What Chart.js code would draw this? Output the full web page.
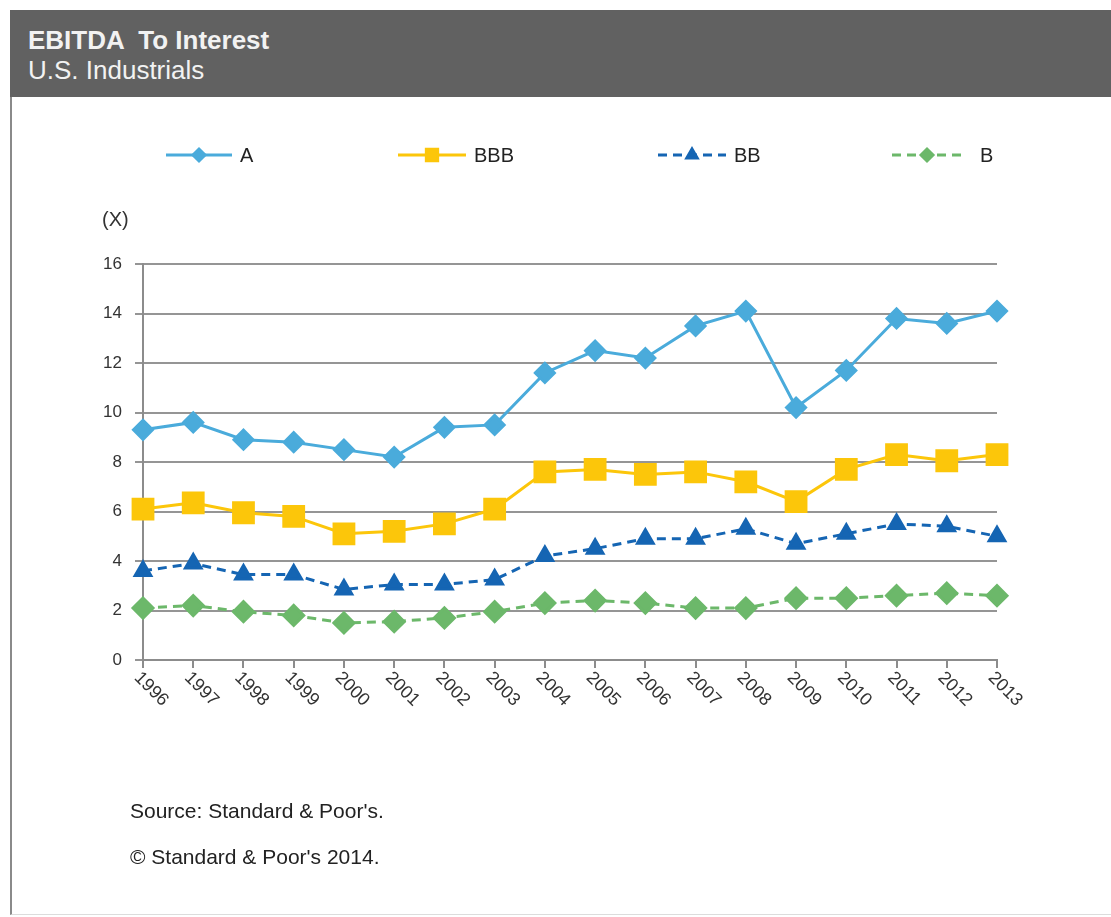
<!DOCTYPE html>
<html>
<head>
<meta charset="utf-8">
<script src="https://cdn.jsdelivr.net/npm/chart.js@4/dist/chart.umd.min.js"></script>
<style>
  html, body { margin:0; padding:0; background:#fff; width:1111px; height:917px; overflow:hidden; font-family:"Liberation Sans", Arial, sans-serif; }
  #header { position:absolute; left:10px; top:10px; width:1101px; height:87px; background:#616161; color:#f2f2f2; }
  #t1 { position:absolute; left:18px; top:15px; font-size:26px; line-height:30px; font-weight:bold; white-space:pre; }
  #t2 { position:absolute; left:18px; top:45px; font-size:26px; line-height:30px; }
  #frame { position:absolute; left:10px; top:97px; width:1101px; height:818px; border-left:2px solid #8a8a8a; border-bottom:1px solid #dcdcdc; box-sizing:border-box; }
  #wrap { position:absolute; left:10px; top:97px; width:1101px; height:818px; }
  #unit { position:absolute; left:102px; top:208px; font-size:20px; color:#333; }
  .foot { position:absolute; left:130px; font-size:21px; color:#222; }
</style>
</head>
<body>
<div id="header"><div id="t1">EBITDA  To Interest</div><div id="t2">U.S. Industrials</div></div>
<div id="frame"></div>
<div id="wrap"><canvas id="c" width="1101" height="818"></canvas></div>
<div id="unit">(X)</div>
<div class="foot" style="top:799px">Source: Standard &amp; Poor's.</div>
<div class="foot" style="top:845px">© Standard &amp; Poor's 2014.</div>
<script>
const years = ['1996','1997','1998','1999','2000','2001','2002','2003','2004','2005','2006','2007','2008','2009','2010','2011','2012','2013'];
const seriesA   = [9.3, 9.6, 8.9, 8.8, 8.5, 8.2, 9.4, 9.5, 11.6, 12.5, 12.2, 13.5, 14.1, 10.2, 11.7, 13.8, 13.6, 14.1];
const seriesBBB = [6.1, 6.35, 5.95, 5.8, 5.1, 5.2, 5.5, 6.1, 7.6, 7.7, 7.5, 7.6, 7.2, 6.4, 7.7, 8.3, 8.05, 8.3];
const seriesBB  = [3.6, 3.9, 3.45, 3.45, 2.85, 3.05, 3.05, 3.25, 4.2, 4.5, 4.9, 4.9, 5.3, 4.7, 5.1, 5.5, 5.4, 5.0];
const seriesB   = [2.1, 2.2, 1.95, 1.8, 1.5, 1.55, 1.7, 1.95, 2.3, 2.4, 2.3, 2.1, 2.1, 2.5, 2.5, 2.6, 2.7, 2.6];
const yTicks = [0, 2, 4, 6, 8, 10, 12, 14, 16];

const cA = '#4aabdb', cBBB = '#fcc60a', cBB = '#1565b3', cB = '#6cb86a';
const FONT = '"Liberation Sans", Arial, sans-serif';

const legendPos = [
  {x1:156, x2:222, lx:230},
  {x1:388, x2:456, lx:464},
  {x1:648, x2:716, lx:724},
  {x1:882, x2:952, lx:970}
];
const legendSize = [6, 8, 6, 6];

const customDraw = {
  id: 'customDraw',
  afterDraw(chart) {
    const ctx = chart.ctx;
    const xs = chart.scales.x;
    ctx.save();
    ctx.fillStyle = '#333';
    ctx.font = '18px ' + FONT;
    ctx.textAlign = 'left';
    ctx.textBaseline = 'middle';
    xs.ticks.forEach((t, i) => {
      const x = xs.getPixelForTick(i);
      ctx.save();
      ctx.translate(x - 6, xs.top + 15);
      ctx.rotate(Math.PI / 4);
      ctx.fillText(years[i], 0, 0);
      ctx.restore();
    });
    // legend
    const ly = 58;
    chart.data.datasets.forEach((ds, i) => {
      const p = legendPos[i];
      ctx.save();
      ctx.strokeStyle = ds.borderColor;
      ctx.lineWidth = 3;
      ctx.setLineDash(ds.borderDash || []);
      ctx.beginPath();
      ctx.moveTo(p.x1, ly);
      ctx.lineTo(p.x2, ly);
      ctx.stroke();
      ctx.setLineDash([]);
      ctx.fillStyle = ds.pointBackgroundColor;
      ctx.strokeStyle = ds.pointBackgroundColor;
      Chart.helpers.drawPoint(ctx, {pointStyle: ds.pointStyle, rotation: 0, borderWidth: 1, radius: legendSize[i]}, (p.x1 + p.x2) / 2, ly);
      ctx.fillStyle = '#222';
      ctx.font = '20px ' + FONT;
      ctx.textBaseline = 'middle';
      ctx.fillText(ds.label, p.lx, ly + 1);
      ctx.restore();
    });
    ctx.restore();
  }
};

function mk(label, data, color, style, radius, dash) {
  return {
    label, data,
    borderColor: color, backgroundColor: color,
    pointBackgroundColor: color, pointBorderColor: color,
    pointStyle: style, pointRadius: radius, pointHoverRadius: radius,
    borderWidth: 3, borderDash: dash, tension: 0, fill: false
  };
}

new Chart(document.getElementById('c'), {
  type: 'line',
  data: {
    labels: years,
    datasets: [
      mk('A', seriesA, cA, 'rectRot', 9.5, []),
      mk('BBB', seriesBBB, cBBB, 'rect', 14, []),
      mk('BB', seriesBB, cBB, 'triangle', 9, [9, 6]),
      mk('B', seriesB, cB, 'rectRot', 10, [9, 6])
    ]
  },
  options: {
    responsive: false,
    animation: false,
    events: [],
    layout: { padding: { left: 93, right: 114, top: 167, bottom: 185 } },
    plugins: { legend: { display: false }, tooltip: { enabled: false } },
    scales: {
      x: {
        type: 'category',
        offset: false,
        afterFit(s) { s.height = 70; },
        grid: { display: true, drawOnChartArea: false, drawTicks: true, tickLength: 8, color: '#8c8c8c', lineWidth: 2 },
        border: { display: true, color: '#8c8c8c', width: 2 },
        ticks: { display: false, autoSkip: false }
      },
      y: {
        min: 0, max: 16,
        afterFit(s) { s.width = 40; },
        afterBuildTicks(s) { s.ticks = yTicks.map(v => ({ value: v })); },
        grid: { color: '#959595', lineWidth: 2, tickLength: 8, drawTicks: true },
        border: { display: true, color: '#8c8c8c', width: 2 },
        ticks: { color: '#333', font: { family: FONT, size: 17 }, padding: 13 }
      }
    }
  },
  plugins: [customDraw]
});
</script>
</body>
</html>
